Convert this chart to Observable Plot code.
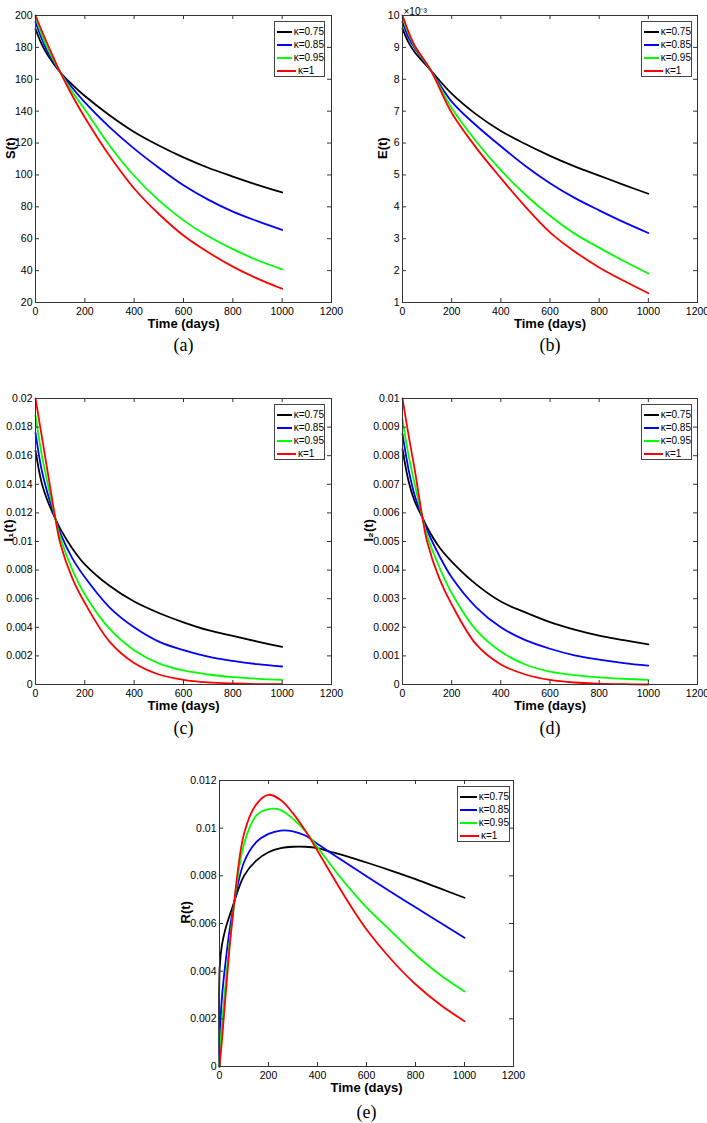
<!DOCTYPE html>
<html><head><meta charset="utf-8">
<script src="https://cdn.jsdelivr.net/npm/d3@7"></script>
<script src="https://cdn.jsdelivr.net/npm/@observablehq/plot@0.6"></script>
<style>
html,body{margin:0;padding:0;background:#fff}
body{width:707px;height:1123px;position:relative;overflow:hidden;font-family:"Liberation Sans Narrow","Liberation Sans",Arial,sans-serif}
.panel{position:absolute}
.panel svg{overflow:visible}
.legend{position:absolute;border:1px solid #444;background:#fff;box-sizing:border-box;height:56px;padding:3px 0 0 2px;font-size:10px;color:#000}
.legend .row{height:13px;display:flex;align-items:center;white-space:nowrap}
.legend .sw{display:inline-block;width:19px;height:2px;margin-right:2px}
</style></head><body>
<script>
// ---- categories / colours ----
const kappas = ["κ=0.75", "κ=0.85", "κ=0.95", "κ=1"];
const colors = ["#000000", "#0000ff", "#00ff00", "#ff0000"];
const xTicks = [0, 200, 400, 600, 800, 1000, 1200];

// ---- (a) S(t) ----
const tS = [0, 25, 50, 100, 150, 200, 300, 400, 500, 600, 700, 800, 900, 1000];
const S_075 = [191.5, 182, 175, 164.4, 156.5, 149.5, 137.5, 127, 118.5, 111, 104.5, 99, 93.8, 89];
const S_085 = [196, 185.5, 177, 164.5, 154.5, 145.5, 130, 116.5, 104.5, 93.5, 84.5, 77, 71, 65.5];
const S_095 = [199, 188, 179, 164.5, 152, 141, 118.5, 99.5, 84, 71.5, 61.5, 53.5, 46.5, 40.8];
const S_1   = [200, 190.5, 181.5, 164.5, 149.5, 136, 112, 91.5, 75.5, 62, 51.5, 42.5, 35, 28.6];
const yTicksS = [20, 40, 60, 80, 100, 120, 140, 160, 180, 200];

// ---- (b) E(t) ----
const tE = [0, 25, 50, 115, 200, 300, 400, 500, 600, 700, 800, 900, 1000];
const E_075 = [0.00959, 0.00915, 0.00885, 0.00828, 0.00755, 0.0069, 0.00638, 0.00597, 0.0056, 0.00527, 0.00498, 0.00469, 0.00441];
const E_085 = [0.0098, 0.0093, 0.00897, 0.00828, 0.0073, 0.00655, 0.0059, 0.00528, 0.00474, 0.00428, 0.00389, 0.00352, 0.00318];
const E_095 = [0.00995, 0.00942, 0.00902, 0.00828, 0.0071, 0.00605, 0.00515, 0.00438, 0.00372, 0.00316, 0.00272, 0.0023, 0.00191];
const E_1   = [0.01, 0.00948, 0.00905, 0.00828, 0.00695, 0.00585, 0.0049, 0.004, 0.0032, 0.0026, 0.0021, 0.00168, 0.00129];
const yTicksE = [0.001, 0.002, 0.003, 0.004, 0.005, 0.006, 0.007, 0.008, 0.009, 0.01];

// ---- (c) I1(t) ----
const tI = [0, 25, 50, 81, 100, 150, 200, 300, 400, 500, 600, 700, 800, 900, 1000];
const I1_075 = [0.01635, 0.0141, 0.0128, 0.01157, 0.0109, 0.0095, 0.0084, 0.0069, 0.0058, 0.005, 0.00435, 0.0038, 0.0034, 0.003, 0.00263];
const I1_085 = [0.0176, 0.015, 0.0133, 0.01157, 0.0106, 0.0088, 0.0075, 0.0054, 0.004, 0.003, 0.0024, 0.00195, 0.00165, 0.00142, 0.00126];
const I1_095 = [0.0188, 0.0161, 0.014, 0.01157, 0.0103, 0.008, 0.0063, 0.0039, 0.0024, 0.00148, 0.00098, 0.0007, 0.00052, 0.0004, 0.00033];
const I1_1   = [0.02, 0.0174, 0.0148, 0.01157, 0.0099, 0.0074, 0.0057, 0.003, 0.0015, 0.0007, 0.00033, 0.00015, 0.00007, 0.00003, 0.00002];
const yTicksI1 = [0, 0.002, 0.004, 0.006, 0.008, 0.01, 0.012, 0.014, 0.016, 0.018, 0.02];

// ---- (d) I2(t) ----
const I2_075 = [0.00823, 0.0071, 0.0064, 0.00584, 0.0055, 0.0048, 0.0043, 0.0035, 0.0029, 0.00252, 0.00218, 0.00192, 0.00171, 0.00155, 0.0014];
const I2_085 = [0.00876, 0.0075, 0.0066, 0.00584, 0.0054, 0.0045, 0.00375, 0.0027, 0.002, 0.00155, 0.00125, 0.00102, 0.00087, 0.00075, 0.00066];
const I2_095 = [0.00928, 0.008, 0.007, 0.00584, 0.0052, 0.0041, 0.0032, 0.0019, 0.00115, 0.0007, 0.00045, 0.00033, 0.00025, 0.0002, 0.00016];
const I2_1   = [0.01, 0.0087, 0.0075, 0.00584, 0.005, 0.0037, 0.0028, 0.0014, 0.0007, 0.00035, 0.00016, 0.00007, 0.00003, 0.00001, 0];
const yTicksI2 = [0, 0.001, 0.002, 0.003, 0.004, 0.005, 0.006, 0.007, 0.008, 0.009, 0.01];

// ---- (e) R(t) ----
const tR = [0, 1, 10, 25, 50, 100, 150, 200, 250, 300, 350, 400, 450, 500, 550, 600, 700, 800, 900, 1000];
const R_075 = [0, 0.0042, 0.0051, 0.0058, 0.0066, 0.008, 0.00864, 0.00899, 0.00916, 0.00922, 0.00922, 0.00916, 0.00902, 0.00888, 0.00872, 0.00856, 0.00822, 0.00786, 0.00747, 0.00708];
const R_085 = [0, 0.0012, 0.0029, 0.0044, 0.0063, 0.00857, 0.00941, 0.00976, 0.0099, 0.00987, 0.00969, 0.00934, 0.00899, 0.00865, 0.00832, 0.00798, 0.00732, 0.00668, 0.00604, 0.0054];
const R_095 = [0, 0.0005, 0.0018, 0.0035, 0.006, 0.00934, 0.01053, 0.0108, 0.01076, 0.01039, 0.00988, 0.0092, 0.00852, 0.00785, 0.00725, 0.00668, 0.00568, 0.0047, 0.00385, 0.00315];
const R_1   = [0, 0.0001, 0.0011, 0.003, 0.0059, 0.00976, 0.011, 0.0114, 0.01118, 0.01062, 0.0099, 0.00905, 0.00818, 0.00732, 0.0065, 0.00575, 0.0045, 0.00345, 0.0026, 0.0019];
const yTicksR = [0, 0.002, 0.004, 0.006, 0.008, 0.01, 0.012];

const FONT = '"Liberation Sans Narrow","Liberation Sans",Arial,sans-serif';
const fmtDec = d => d === 0 ? "0" : String(+d.toFixed(4));

function rows(t, seriesList) {
  const out = [];
  seriesList.forEach((vals, i) => t.forEach((tt, j) => out.push({t: tt, v: vals[j], k: kappas[i]})));
  return out;
}

function panel(o) {
  const W = o.width - o.ml - o.mr, H = o.height - o.mt - o.mb;
  const data = rows(o.t, o.series);
  const marks = [
    Plot.line(data, {x: "t", y: "v", stroke: "k", z: "k", strokeWidth: 1.8, curve: "catmull-rom"}),
    Plot.frame({stroke: "#333", strokeWidth: 1}),
    Plot.tickX(xTicks, {x: d => d, insetTop: H - 4, stroke: "#333"}),
    Plot.tickX(xTicks, {x: d => d, insetBottom: H - 4, stroke: "#333"}),
    Plot.tickY(o.yTicks, {y: d => d, insetRight: W - 4, stroke: "#333"}),
    Plot.tickY(o.yTicks, {y: d => d, insetLeft: W - 4, stroke: "#333"}),
    Plot.axisX(xTicks, {tickSize: 0, tickPadding: 5, label: null, tickFormat: d => String(d), fontSize: 10.5}),
    Plot.axisY(o.yTicks, {tickSize: 0, tickPadding: 3, label: null, tickFormat: o.yFmt, fontSize: 10.5}),
    Plot.text(["Time (days)"], {frameAnchor: "bottom", dy: o.xlabDy, fontSize: 13, fontWeight: "bold"}),
    Plot.text([o.ylabel], {frameAnchor: "left", dx: -o.ylabDx, rotate: -90, fontSize: 13, fontWeight: "bold"}),
    Plot.text([o.caption], {frameAnchor: "bottom", dy: o.capDy, fontSize: 18, fontFamily: '"Liberation Serif","DejaVu Serif",serif'})
  ];
  if (o.exponent) marks.push(Plot.text([o.exponent], {frameAnchor: "top-left", textAnchor: "start", dx: 1, dy: -8, fontSize: 10}));
  const svg = Plot.plot({
    width: o.width, height: o.height,
    marginTop: o.mt, marginRight: o.mr, marginBottom: o.mb, marginLeft: o.ml,
    style: {fontFamily: FONT, fontSize: "10.5px", color: "#000", background: "transparent", overflow: "visible"},
    x: {type: "linear", domain: [0, 1200]},
    y: {type: "linear", domain: o.yDomain},
    color: {domain: kappas, range: colors},
    marks
  });
  const wrap = document.createElement("div");
  wrap.className = "panel";
  wrap.style.left = o.left + "px";
  wrap.style.top = o.top + "px";
  wrap.appendChild(svg);
  document.body.appendChild(wrap);

  const lg = document.createElement("div");
  lg.className = "legend";
  lg.style.left = o.legend[0] + "px";
  lg.style.top = o.legend[1] + "px";
  lg.style.width = o.legend[2] + "px";
  kappas.forEach((k, i) => {
    const r = document.createElement("div");
    r.className = "row";
    const sw = document.createElement("span");
    sw.className = "sw";
    sw.style.background = colors[i];
    const tx = document.createElement("span");
    tx.textContent = k;
    r.appendChild(sw); r.appendChild(tx);
    lg.appendChild(r);
  });
  document.body.appendChild(lg);
}

panel({left: 0, top: 0, width: 345, height: 365, mt: 15, mr: 14, mb: 63, ml: 35,
  t: tS, series: [S_075, S_085, S_095, S_1], yDomain: [20, 200], yTicks: yTicksS, yFmt: d => String(d),
  ylabel: "S(t)", ylabDx: 25, xlabDy: 25, capDy: 48, caption: "(a)", legend: [274, 21, 51]});

panel({left: 355, top: 0, width: 352, height: 365, mt: 15, mr: 10, mb: 63, ml: 47,
  t: tE, series: [E_075, E_085, E_095, E_1], yDomain: [0.001, 0.01], yTicks: yTicksE, yFmt: d => String(Math.round(d * 1000)),
  ylabel: "E(t)", ylabDx: 20, xlabDy: 25, capDy: 48, caption: "(b)", exponent: "×10⁻³", legend: [641, 21, 51]});

panel({left: 0, top: 382, width: 345, height: 365, mt: 16, mr: 14, mb: 63, ml: 35,
  t: tI, series: [I1_075, I1_085, I1_095, I1_1], yDomain: [0, 0.02], yTicks: yTicksI1, yFmt: fmtDec,
  ylabel: "I₁(t)", ylabDx: 27, xlabDy: 25, capDy: 49, caption: "(c)", legend: [274, 404, 51]});

panel({left: 355, top: 382, width: 352, height: 365, mt: 16, mr: 10, mb: 63, ml: 47,
  t: tI, series: [I2_075, I2_085, I2_095, I2_1], yDomain: [0, 0.01], yTicks: yTicksI2, yFmt: fmtDec,
  ylabel: "I₂(t)", ylabDx: 34, xlabDy: 25, capDy: 49, caption: "(d)", legend: [641, 404, 51]});

panel({left: 180, top: 765, width: 345, height: 358, mt: 15, mr: 12, mb: 57, ml: 39,
  t: tR, series: [R_075, R_085, R_095, R_1], yDomain: [0, 0.012], yTicks: yTicksR, yFmt: fmtDec,
  ylabel: "R(t)", ylabDx: 34, xlabDy: 25, capDy: 51, caption: "(e)", legend: [457, 786, 53]});
</script>
</body></html>
